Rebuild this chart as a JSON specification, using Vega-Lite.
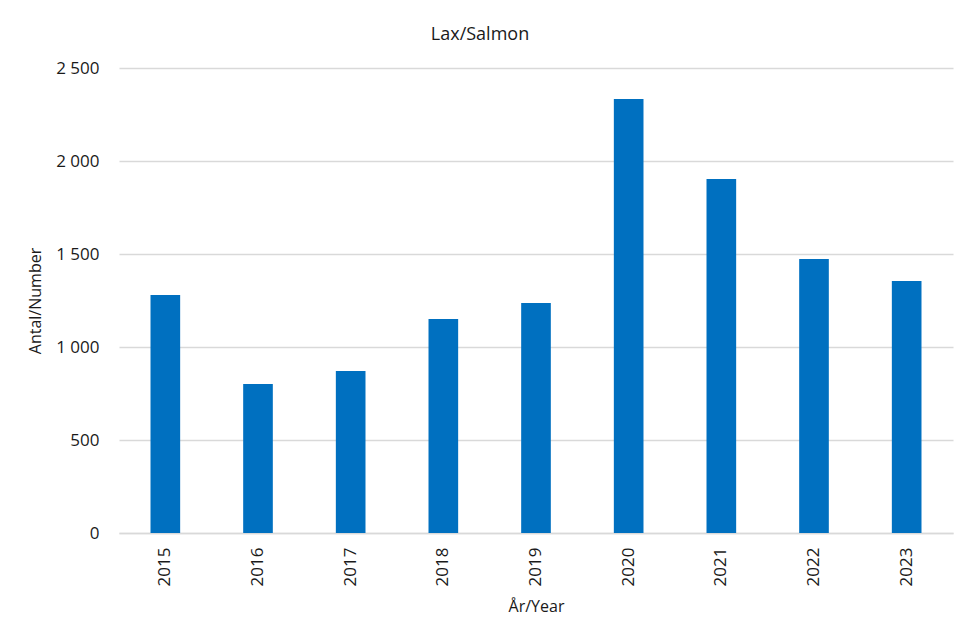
{
  "$schema": "https://vega.github.io/schema/vega-lite/v6.json",
  "autosize": {"type": "none"},
  "width": 834,
  "height": 465,
  "padding": {"left": 119, "top": 68, "right": 1, "bottom": 97},
  "background": "white",
  "title": {
    "text": "Lax/Salmon",
    "font": "Open Sans",
    "fontSize": 18,
    "fontWeight": "normal",
    "color": "#1a1a1a",
    "anchor": "middle",
    "dx": -56,
    "offset": 15
  },
  "data": {
    "values": [
      {"year": "2015", "count": 1280},
      {"year": "2016", "count": 801},
      {"year": "2017", "count": 871},
      {"year": "2018", "count": 1150},
      {"year": "2019", "count": 1237},
      {"year": "2020", "count": 2333},
      {"year": "2021", "count": 1903},
      {"year": "2022", "count": 1473},
      {"year": "2023", "count": 1355}
    ]
  },
  "mark": {"type": "bar", "color": "#0070C0"},
  "encoding": {
    "x": {
      "field": "year",
      "type": "ordinal",
      "scale": {"paddingInner": 0.68, "paddingOuter": 0.34},
      "axis": {
        "title": "År/Year",
        "labelAngle": -90,
        "labelAlign": "right",
        "labelBaseline": "middle",
        "ticks": false,
        "labelPadding": 14,
        "domainColor": "#D9D9D9",
        "domainWidth": 1.5,
        "labelFont": "Open Sans",
        "labelFontSize": 17,
        "labelColor": "#1a1a1a",
        "titleFont": "Open Sans",
        "titleFontSize": 16,
        "titleFontWeight": "normal",
        "titleColor": "#1a1a1a",
        "titlePadding": 13
      }
    },
    "y": {
      "field": "count",
      "type": "quantitative",
      "scale": {"domain": [0, 2500], "nice": false},
      "axis": {
        "title": "Antal/Number",
        "values": [0, 500, 1000, 1500, 2000, 2500],
        "labelExpr": "replace(format(datum.value, ','), ',', ' ')",
        "domain": false,
        "ticks": false,
        "labelPadding": 20,
        "gridColor": "#D9D9D9",
        "gridWidth": 1.5,
        "labelFont": "Open Sans",
        "labelFontSize": 17,
        "labelColor": "#1a1a1a",
        "titleFont": "Open Sans",
        "titleFontSize": 16,
        "titleFontWeight": "normal",
        "titleColor": "#1a1a1a",
        "titlePadding": 12
      }
    }
  },
  "config": {"view": {"stroke": null}}
}
